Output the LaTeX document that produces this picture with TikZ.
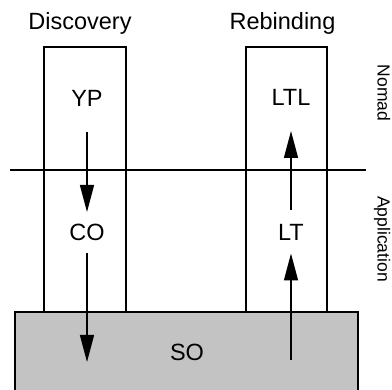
\documentclass[tikz,border=0pt]{standalone}
\usepackage{fontspec}
\setmainfont{Liberation Sans}
\usetikzlibrary{arrows.meta}
\definecolor{sogray}{gray}{0.765}
\begin{document}
\begin{tikzpicture}[x=1pt,y=-1pt,
  lbl/.style={inner sep=0pt, text height=17pt, text depth=0pt, font=\fontsize{23.5}{27}\selectfont},
  ttl/.style={inner sep=0pt, anchor=base, font=\fontsize{23.5}{27}\selectfont},
  side/.style={inner sep=0pt, rotate=-90, anchor=base, font=\fontsize{17.5}{21}\selectfont},
  boxsty/.style={draw, line width=1.4pt, inner sep=0pt},
  arr/.style={line width=1.4pt, -{Triangle[length=27pt,width=14pt]}}]
\useasboundingbox (0,0) rectangle (392,390);
\clip (0,0) rectangle (392,390);
\node[boxsty, fill=white, minimum width=82pt, minimum height=265pt] (disc) at (85,179.5) {};
\node[boxsty, fill=white, minimum width=81pt, minimum height=265pt] (rebind) at (286.5,179.5) {};
\coordinate (hl) at (10,170);
\coordinate (hr) at (366,170);
\draw[line width=1.4pt] (hl) -- (hr);
\node[boxsty, fill=sogray, minimum width=343pt, minimum height=90pt] (sobox) at (186.5,357) {};
\node[lbl] (SO) at (187,352.5) {SO};
\node[ttl] (tdisc) at (80,30) {Discovery};
\node[ttl] (treb) at (282.5,30) {Rebinding};
\node[lbl, outer sep=26pt] (YP) at (87,97.9) {YP};
\node[lbl, outer sep=12pt] (CO) at (87,232.5) {CO};
\node[lbl, outer sep=25pt] (LTL) at (291,97.5) {LTL};
\node[lbl, outer sep=13pt] (LT) at (291,232) {LT};
\coordinate (sodown) at (87,362);
\coordinate (soup) at (291,360);
\draw[arr] (YP) -- (CO);
\draw[arr] (CO) -- (sodown);
\draw[arr] (LT) -- (LTL);
\draw[arr] (soup) -- (LT);
\node[side] (nomad) at (377.5,93) {Nomad};
\node[side] (app) at (377.5,239) {Application};
\end{tikzpicture}
\end{document}
